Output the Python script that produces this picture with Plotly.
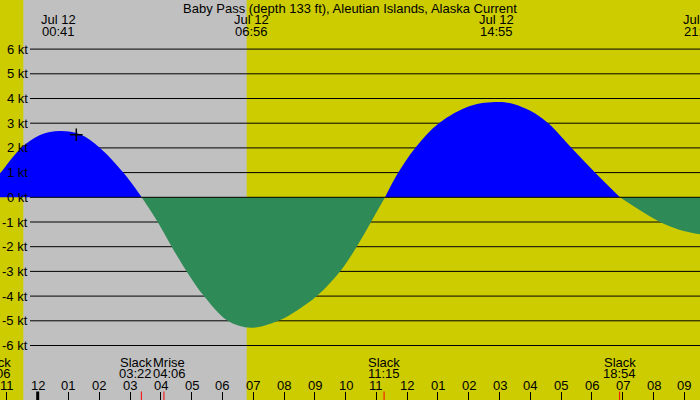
import plotly.graph_objects as go

# ---------------- data ----------------
title = "Baby Pass (depth 133 ft), Aleutian Islands, Alaska Current"

# hours after midnight of Jul 12 (negative = Jul 11)
hour_ticks = list(range(-1, 22))
hour_labels = ["11", "12", "01", "02", "03", "04", "05", "06", "07", "08", "09", "10",
               "11", "12", "01", "02", "03", "04", "05", "06", "07", "08", "09"]

curve_t = [-1.90, -1.224, -0.575, 0.075, 0.72, 1.374, 2.023, 2.78, 3.378,
           3.897, 4.352, 4.839, 5.401, 6.171, 6.93, 7.814, 8.46, 9.061, 9.818, 10.36, 10.825, 11.28,
           11.71, 12.26, 13.03, 14.04, 14.95, 15.45, 16.0, 16.58, 17.34, 18.10, 18.91,
           20.21, 20.86, 21.51]
curve_kt = [0.0, 0.97, 1.95, 2.52, 2.68, 2.55, 2.0, 1.0, 0.0,
            -1.0, -2.0, -3.0, -4.0, -5.0, -5.28, -5.0, -4.55, -4.0, -3.0, -2.0, -1.0, 0.0,
            1.0, 2.0, 3.0, 3.70, 3.86, 3.78, 3.50, 3.0, 2.0, 1.0, 0.0,
            -1.0, -1.32, -1.50]

slack_t = [-1.90, 3.367, 11.25, 18.90]
slack_lbl = ["22:06", "03:22", "11:15", "18:54"]
moonrise_t = [4.10]
moonrise_lbl = ["04:06"]
peak_t = [0.683, 6.933, 14.917, 21.517]
peak_lbl = ["00:41", "06:56", "14:55", "21:31"]
date_lbl = "Jul 12"
night_start, night_end = -0.467, 6.787
now_t, now_kt = 1.254, 2.53
kt_levels = list(range(-6, 7))

# ---------------- layout constants ----------------
W, H = 700, 400
PX0, PXH = 37.7, 30.79        # pixel of midnight, pixels per hour
PY0, PYK = 197.3, 24.7        # pixel of 0 kt, pixels per knot
x_range = [(0 - PX0) / PXH, (W - PX0) / PXH]
y_range = [(PY0 - H) / PYK, PY0 / PYK]
YELLOW, GREY = "#CCCC00", "#C0C0C0"
FLOOD, EBB = "#0000FF", "#2E8B57"
FONT = "Liberation Sans, Arial, sans-serif"


def py(pix):
    return 1 - pix / H


def xp(t):
    # time -> paper fraction (through the x axis range), so labels past the edges still render
    return (t - x_range[0]) / (x_range[1] - x_range[0])


fig = go.Figure()


def add_seg(ts, vs):
    col = FLOOD if sum(vs) > 0 else EBB
    fig.add_trace(go.Scatter(x=ts, y=vs, mode="lines", line=dict(width=0, shape="spline", color=col),
                             fill="tozeroy", fillcolor=col, hoverinfo="skip"))


# current curve split into flood / ebb segments at slack points
seg_t, seg_v = [curve_t[0]], [curve_kt[0]]
for t, v in zip(curve_t[1:], curve_kt[1:]):
    seg_t.append(t)
    seg_v.append(v)
    if v == 0:
        add_seg(seg_t, seg_v)
        seg_t, seg_v = [t], [v]
if len(seg_t) > 1:
    add_seg(seg_t, seg_v)

# current-time marker
fig.add_trace(go.Scatter(x=[now_t], y=[now_kt], mode="markers",
                         marker=dict(symbol="cross-thin", size=9, line=dict(width=1.5, color="black")),
                         hoverinfo="skip"))

shapes = []
# night band
shapes.append(dict(type="rect", xref="x", yref="paper", x0=night_start, x1=night_end, y0=0, y1=1,
                   fillcolor=GREY, line=dict(width=0), layer="below"))
# grid lines
for k in kt_levels:
    shapes.append(dict(type="line", xref="paper", yref="y", x0=30 / W, x1=1, y0=k, y1=k,
                       line=dict(color="black", width=1), layer="below" if k != 0 else "above"))
# midnight thick tick
shapes.append(dict(type="line", xref="x", yref="paper", x0=0, x1=0, y0=0, y1=8.5 / H,
                   line=dict(color="black", width=3)))
# red event ticks
for t in slack_t + moonrise_t:
    shapes.append(dict(type="line", xref="x", yref="paper", x0=t, x1=t, y0=0, y1=8.5 / H,
                       line=dict(color="red", width=1)))

ann = []
tf = dict(family=FONT, size=13, color="black")


def label(text, x, y, xanchor="center", xref="paper", yref="paper", xshift=0):
    ann.append(dict(text=text, xref=xref, yref=yref, x=x, y=y, xanchor=xanchor, yanchor="middle",
                    showarrow=False, font=tf, borderpad=0, xshift=xshift))


label(title, 0.5, py(8))
for t, lbl in zip(peak_t, peak_lbl):
    label(date_lbl, xp(t), py(19.5))
    label(lbl, xp(t), py(31.5))
for k in kt_levels:
    label(f"{k} kt", 28.5 / W, k, xanchor="right", yref="y")
for t, lbl in zip(hour_ticks, hour_labels):
    label(lbl, xp(t), py(385.5))

# event labels (slack / moonrise); neighbours that would collide meet at their midpoint
events = sorted([(t, "Slack", l) for t, l in zip(slack_t, slack_lbl)] +
                [(t, "Mrise", l) for t, l in zip(moonrise_t, moonrise_lbl)])
for i, (t, name, lbl) in enumerate(events):
    xa, xpos, sh = "center", max(t, x_range[0] - 0.17), 0
    if i + 1 < len(events) and events[i + 1][0] - t < 1.2:
        xa, xpos, sh = "right", (t + events[i + 1][0]) / 2, 0.75
    elif i > 0 and t - events[i - 1][0] < 1.2:
        xa, xpos, sh = "left", (t + events[i - 1][0]) / 2, -0.75
    label(name, xp(xpos), py(362), xanchor=xa, xshift=sh)
    label(lbl, xp(xpos), py(373), xanchor=xa, xshift=sh)

fig.update_layout(
    width=W, height=H, margin=dict(l=0, r=0, t=0, b=0),
    paper_bgcolor=YELLOW, plot_bgcolor=YELLOW, showlegend=False,
    xaxis=dict(range=x_range, showgrid=False, zeroline=False, showline=False,
               tickvals=hour_ticks, showticklabels=False, ticks="inside", ticklen=8,
               tickwidth=1, tickcolor="black", fixedrange=True),
    yaxis=dict(range=y_range, showgrid=False, zeroline=False, showline=False,
               showticklabels=False, fixedrange=True),
    shapes=shapes, annotations=ann,
)

fig.write_html("out.html", config={"displayModeBar": False})
